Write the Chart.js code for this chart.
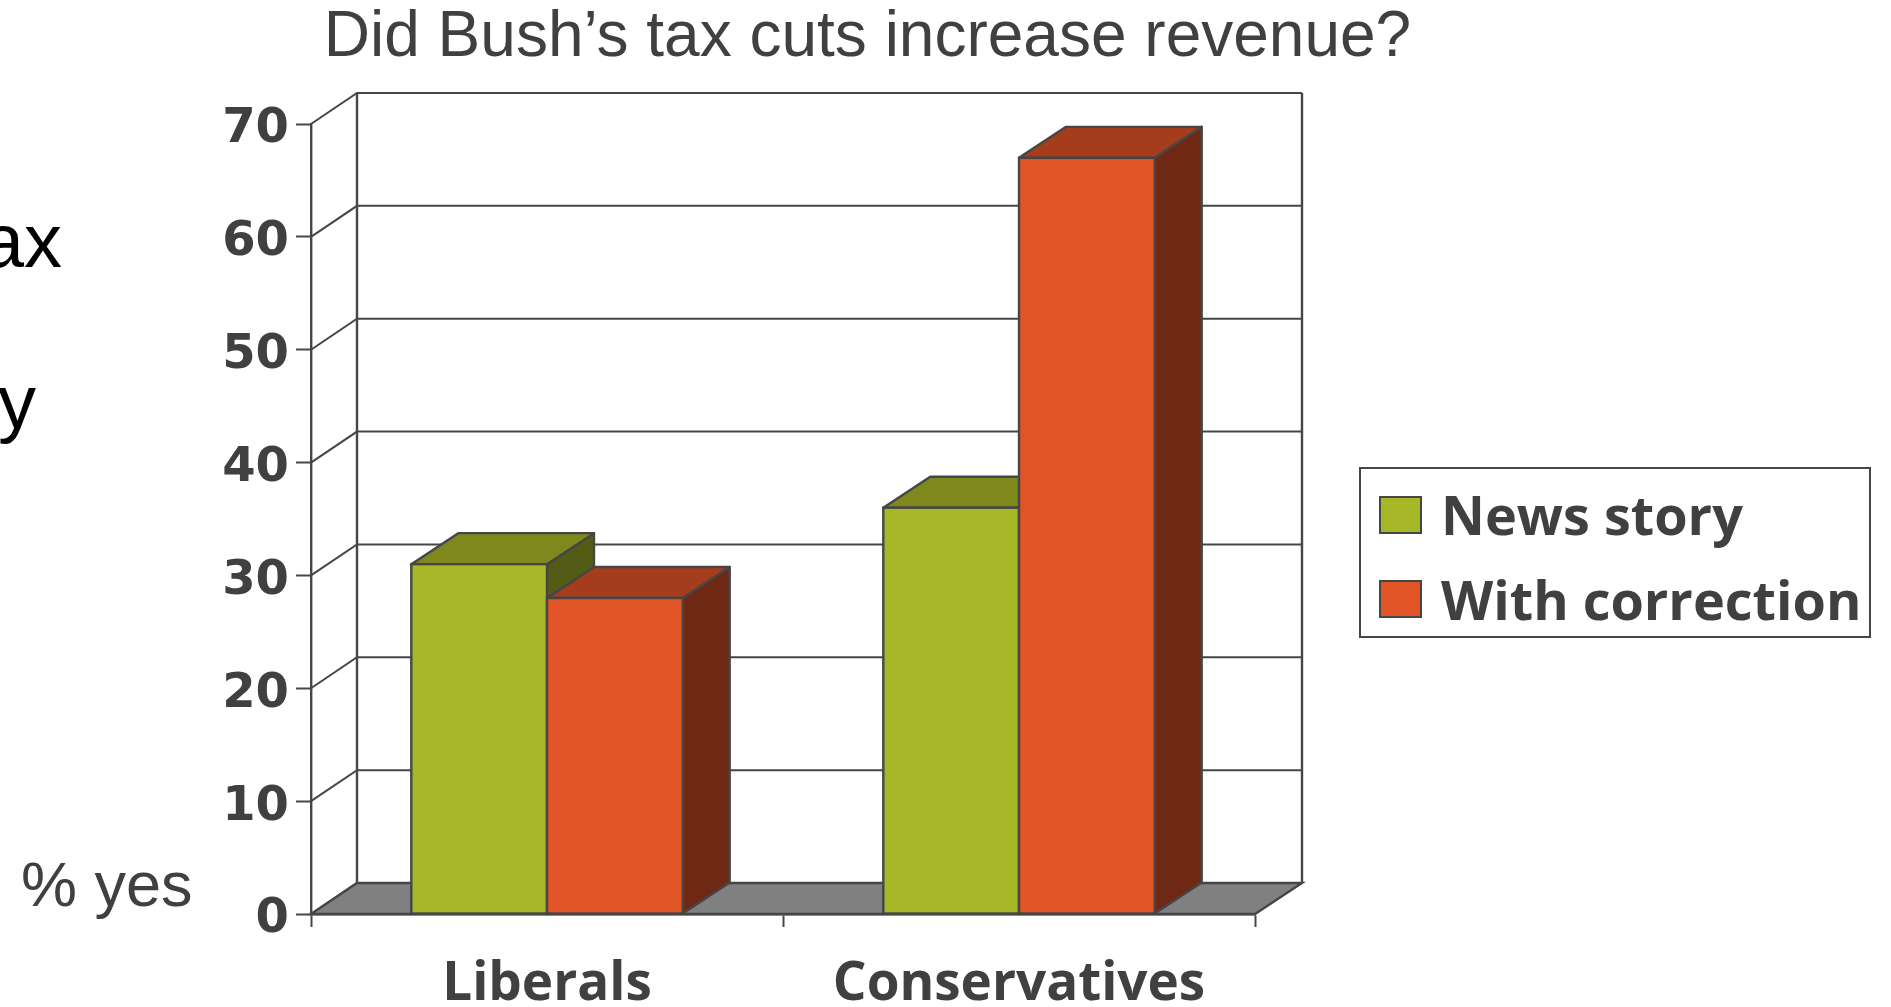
<!DOCTYPE html>
<html>
<head>
<meta charset="utf-8">
<title>Did Bush's tax cuts increase revenue?</title>
<script src="https://cdn.jsdelivr.net/npm/chart.js@4"></script>
<style>
html, body { margin: 0; padding: 0; background: #fff; overflow: hidden; }
canvas { display: block; }
</style>
</head>
<body>
<canvas id="bar-chart" width="1891" height="1007"></canvas>
<script>
var categories = ["Liberals", "Conservatives"];
var newsStory = [31, 36];
var withCorrection = [28, 67];
var seriesNames = ["News story", "With correction"];
var yTicks = [0, 10, 20, 30, 40, 50, 60, 70];
var titleText = "Did Bush\u2019s tax cuts increase revenue?";

// colours of the three visible faces of each bar
var frontColors = ["#a6b727", "#e05426"];
var topColors = ["#7f881d", "#a53c1c"];
var sideColors = ["#525c14", "#6f2813"];

var LINE = "#464646";
var TEXT = "#404040";
var DEPTH_X = 47;
var DEPTH_Y = 31;

function poly(ctx, pts, fill) {
	ctx.beginPath();
	ctx.moveTo(pts[0][0], pts[0][1]);
	for (var i = 1; i < pts.length; i++) ctx.lineTo(pts[i][0], pts[i][1]);
	ctx.closePath();
	if (fill) {
		ctx.fillStyle = fill;
		ctx.fill();
	}
	ctx.stroke();
}

function eachBar(chart, index, fn) {
	chart.getDatasetMeta(index).data.forEach(function(bar) {
		fn(bar.x - bar.width / 2, bar.x + bar.width / 2, bar.y, bar.base);
	});
}

// walls, floor and the depth faces of the bars
var box3d = {
	id : "box3d",
	beforeDatasetsDraw : function(chart) {
		var ctx = chart.ctx, a = chart.chartArea, y = chart.scales.y;
		var wall = a.left + DEPTH_X - 1;
		ctx.save();
		ctx.strokeStyle = LINE;
		ctx.lineWidth = 2;
		yTicks.forEach(function(v) {
			var py = y.getPixelForValue(v);
			ctx.beginPath();
			ctx.moveTo(a.left, py);
			ctx.lineTo(wall, py - DEPTH_Y);
			ctx.lineTo(a.right + DEPTH_X, py - DEPTH_Y);
			ctx.stroke();
		});
		var top = y.getPixelForValue(70) - DEPTH_Y, bottom = y.getPixelForValue(0);
		ctx.lineWidth = 2.4;
		ctx.beginPath();
		ctx.moveTo(wall, bottom - DEPTH_Y);
		ctx.lineTo(wall, top);
		ctx.moveTo(a.right + DEPTH_X, bottom - DEPTH_Y);
		ctx.lineTo(a.right + DEPTH_X, top);
		ctx.stroke();
		poly(ctx, [ [ a.left, bottom ], [ a.right, bottom ],
				[ a.right + DEPTH_X, bottom - DEPTH_Y ],
				[ wall, bottom - DEPTH_Y ] ], "#808080");
		ctx.restore();
	},
	// bars are painted below, left series first, so the right one overlaps it
	beforeDatasetDraw : function() {
		return false;
	},
	afterDatasetsDraw : function(chart) {
		var ctx = chart.ctx;
		[ 0, 1 ].forEach(function(i) {
			ctx.save();
			ctx.strokeStyle = LINE;
			ctx.lineWidth = 2.4;
			ctx.lineJoin = "round";
			eachBar(chart, i, function(l, r, t, b) {
				poly(ctx, [ [ r, b ], [ r, t ], [ r + DEPTH_X, t - DEPTH_Y ],
						[ r + DEPTH_X, b - DEPTH_Y ] ], sideColors[i]);
				poly(ctx, [ [ l, t ], [ r, t ], [ r + DEPTH_X, t - DEPTH_Y ],
						[ l + DEPTH_X, t - DEPTH_Y ] ], topColors[i]);
			});
			ctx.restore();
			chart.getDatasetMeta(i).controller.draw();
			ctx.save();
			ctx.strokeStyle = LINE;
			ctx.lineWidth = 2.4;
			eachBar(chart, i, function(l, r, t, b) {
				ctx.strokeRect(l, t, r - l, b - t);
			});
			ctx.restore();
		});
	},
	afterLayout : function(chart) {
		// the title sits left of the page centre
		chart.titleBlock.left = 300;
		chart.titleBlock.right = 1435;
	},
	afterDraw : function(chart) {
		var ctx = chart.ctx;
		ctx.save();
		// axis caption and the slide text next to the chart
		ctx.textBaseline = "alphabetic";
		ctx.textAlign = "right";
		ctx.fillStyle = "#000";
		ctx.font = "76px 'Liberation Sans'";
		ctx.fillText("ax", 62, 267);
		ctx.fillText("y", 36, 428);
		ctx.fillStyle = TEXT;
		ctx.textAlign = "left";
		ctx.font = "63px 'Liberation Sans'";
		ctx.fillText("% yes", 21, 906);

		// legend
		ctx.strokeStyle = LINE;
		ctx.lineWidth = 2;
		ctx.strokeRect(1360, 468, 510, 169);
		ctx.font = "bold 54px 'Open Sans'";
		var swatchTop = [ 497, 581 ], baseline = [ 535, 620 ];
		seriesNames.forEach(function(name, i) {
			ctx.fillStyle = frontColors[i];
			ctx.fillRect(1380, swatchTop[i], 41, 36);
			ctx.strokeRect(1380, swatchTop[i], 41, 36);
			ctx.fillStyle = TEXT;
			ctx.fillText(name, 1441, baseline[i]);
		});
		ctx.restore();
	}
};

new Chart(document.getElementById("bar-chart"), {
	type : "bar",
	data : {
		labels : categories,
		datasets : [ {
			label : seriesNames[0],
			data : newsStory,
			backgroundColor : frontColors[0]
		}, {
			label : seriesNames[1],
			data : withCorrection,
			backgroundColor : frontColors[1]
		} ]
	},
	plugins : [ box3d ],
	options : {
		responsive : false,
		animation : false,
		layout : {
			padding : { left : 0, right : 636, top : 0, bottom : 0 }
		},
		datasets : {
			bar : {
				categoryPercentage : 0.575,
				barPercentage : 1,
				borderWidth : 0
			}
		},
		plugins : {
			legend : { display : false },
			tooltip : { enabled : false },
			title : {
				display : true,
				text : titleText,
				color : TEXT,
				font : { family : "'Liberation Sans'", size : 64, weight : "normal", lineHeight : 1.2 },
				padding : { top : 0, bottom : 47.2 }
			}
		},
		scales : {
			x : {
				afterFit : function(scale) { scale.height = 93; },
				border : { display : true, color : LINE, width : 2.4 },
				grid : {
					drawOnChartArea : false,
					tickLength : 13,
					tickColor : LINE,
					tickWidth : 2
				},
				ticks : {
					color : TEXT,
					padding : 26,
					maxRotation : 0,
					font : { family : "'Open Sans'", size : 53, weight : "bold" }
				}
			},
			y : {
				min : 0,
				max : 70,
				afterFit : function(scale) { scale.width = 311; },
				afterBuildTicks : function(scale) {
					scale.ticks = yTicks.map(function(v) { return { value : v }; });
				},
				border : { display : true, color : LINE, width : 2.4 },
				grid : {
					drawOnChartArea : false,
					tickLength : 15,
					tickColor : LINE,
					tickWidth : 2
				},
				ticks : {
					color : TEXT,
					padding : 7,
					labelOffset : 6,
					font : { family : "'DejaVu Sans'", size : 48, weight : "bold" }
				}
			}
		}
	}
});
</script>
</body>
</html>
